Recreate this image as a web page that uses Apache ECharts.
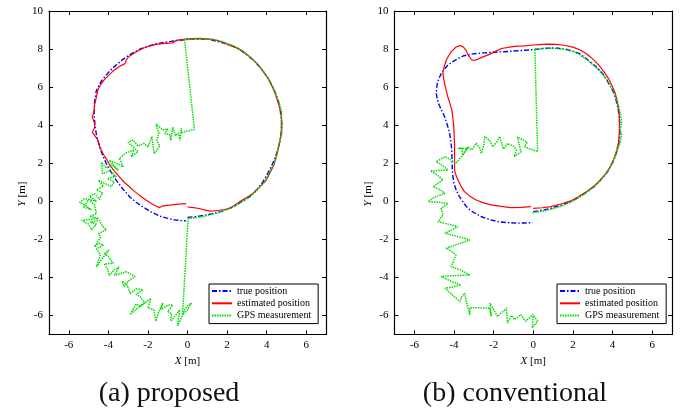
<!DOCTYPE html>
<html>
<head>
<meta charset="utf-8">
<script src="https://cdn.jsdelivr.net/npm/echarts@6/dist/echarts.min.js"></script>
<style>
html,body{margin:0;padding:0;background:#fff;}
#c{width:691px;height:417px;}
</style>
</head>
<body>
<div id="c"></div>
<script>
// ---------- tick labels ----------
const xTicks = [-6, -4, -2, 0, 2, 4, 6];
const yTicks = [-6, -4, -2, 0, 2, 4, 6, 8, 10];
const seriesNames = ['true position', 'estimated position', 'GPS measurement'];
const captions = ['(a) proposed', '(b) conventional'];

// ---------- (a) proposed ----------
const aTrue = [
  [0.0,-0.85],[0.6,-0.78],[1.28,-0.65],[1.8,-0.5],[2.29,-0.3],[2.7,-0.05],[3.13,0.23],[3.5,0.6],[3.8,1.01],
  [4.05,1.45],[4.3,1.97],[4.5,2.5],[4.64,3.02],[4.74,3.55],[4.77,4.06],[4.69,4.76],[4.6,5.2],[4.47,5.63],
  [4.28,6.08],[4.05,6.5],[3.78,6.9],[3.46,7.29],[3.05,7.66],[2.62,7.99],[2.2,8.18],[1.78,8.33],[1.11,8.51],
  [0.5,8.53],[0.0,8.51],[-0.74,8.42],[-1.58,8.28],[-2.0,8.15],[-2.42,7.99],[-2.85,7.75],[-3.26,7.46],
  [-3.62,7.15],[-3.93,6.85],[-4.35,6.33],[-4.61,5.81],[-4.7,5.2],[-4.72,4.59],[-4.68,4.05],[-4.61,3.54],
  [-4.44,2.84],[-4.28,2.4],[-4.1,1.97],[-3.85,1.52],[-3.6,1.1],[-3.27,0.65],[-2.92,0.23],[-2.6,-0.05],
  [-2.25,-0.3],[-1.85,-0.55],[-1.41,-0.78],[-1.0,-0.9],[-0.57,-0.99],[-0.07,-1.03]
];
const aEst = [
  [0.0,-0.3],[0.3,-0.33],[0.6,-0.38],[0.9,-0.46],[1.11,-0.52],[1.35,-0.5],[1.61,-0.47],[1.85,-0.43],[2.12,-0.38],
  [2.4,-0.2],[2.62,-0.03],[2.95,0.17],[3.29,0.4],[3.65,0.75],[3.97,1.1],[4.2,1.55],[4.39,1.97],[4.5,2.4],
  [4.61,2.84],[4.7,3.35],[4.77,3.89],[4.74,4.59],[4.62,5.05],[4.47,5.54],[4.3,6.0],[4.1,6.42],[3.85,6.8],
  [3.55,7.2],[3.2,7.55],[2.79,7.9],[2.4,8.1],[1.95,8.28],[1.6,8.42],[1.28,8.51],[0.61,8.56],[0.0,8.54],
  [-0.57,8.46],[-0.74,8.33],[-1.15,8.3],[-1.58,8.25],[-1.95,8.15],[-2.25,8.04],[-2.6,7.85],[-2.92,7.64],
  [-3.05,7.5],[-3.18,7.22],[-3.45,7.08],[-3.76,6.85],[-3.98,6.62],[-4.18,6.42],[-4.38,6.15],[-4.52,5.89],
  [-4.6,5.5],[-4.69,5.11],[-4.72,4.75],[-4.81,4.41],[-4.7,4.1],[-4.69,3.89],[-4.81,3.63],[-4.65,3.4],
  [-4.52,3.19],[-4.45,2.9],[-4.35,2.67],[-4.22,2.42],[-4.1,2.23],[-3.95,1.95],[-3.85,1.8],[-3.65,1.53],
  [-3.43,1.27],[-3.2,1.0],[-2.92,0.75],[-2.68,0.52],[-2.42,0.31],[-2.12,0.08],[-1.83,-0.12],[-1.6,-0.25],
  [-1.41,-0.33],[-1.25,-0.25],[-1.08,-0.21],[-0.8,-0.19],[-0.57,-0.16],[-0.3,-0.14],[-0.07,-0.12]
];
const aGps = [
  [0.03,-0.9],[0.4,-0.86],[0.8,-0.8],[1.15,-0.7],[1.5,-0.62],[1.85,-0.48],[2.2,-0.35],[2.45,-0.22],[2.7,-0.05],
  [2.95,0.1],[3.2,0.3],[3.42,0.48],[3.6,0.72],[3.8,0.9],[3.95,1.15],[4.12,1.45],[4.25,1.75],[4.4,2.05],
  [4.5,2.4],[4.56,2.7],[4.62,3.0],[4.7,3.3],[4.78,3.6],[4.72,3.9],[4.74,4.2],[4.76,4.7],[4.68,5.0],[4.6,5.3],
  [4.5,5.5],[4.42,5.75],[4.3,6.0],[4.15,6.3],[4.0,6.55],[3.85,6.8],[3.65,7.05],[3.45,7.3],[3.25,7.5],
  [3.0,7.7],[2.78,7.9],[2.55,8.05],[2.28,8.2],[2.0,8.3],[1.75,8.4],[1.55,8.45],[1.3,8.5],[1.1,8.52],
  [0.8,8.53],[0.5,8.53],[0.2,8.51],[-0.15,8.5],
  [0.35,3.78],[-0.3,3.62],[-0.32,3.85],[-0.38,3.2],[-0.45,3.6],[-0.6,3.45],[-0.75,3.9],[-0.85,3.2],
  [-0.9,3.5],[-1.15,3.55],[-1.0,3.8],[-1.25,3.75],[-1.6,4.08],[-1.45,3.6],[-1.55,3.2],[-1.4,2.9],
  [-1.68,2.5],[-1.75,3.0],[-1.8,3.4],[-2.0,2.85],[-2.2,3.05],[-2.5,2.9],[-2.75,3.22],[-3.0,3.1],
  [-2.5,2.6],[-2.85,2.35],[-2.7,2.7],[-3.1,2.55],[-3.45,2.25],[-3.25,1.82],[-3.6,2.0],[-3.95,2.15],
  [-3.5,1.62],[-3.8,1.9],[-4.1,1.75],[-4.35,2.05],[-4.3,1.45],[-3.9,1.6],[-3.6,1.3],[-4.05,1.2],
  [-3.7,1.0],[-3.85,0.78],[-4.2,0.95],[-4.5,1.1],[-4.25,0.8],[-4.6,0.6],[-4.3,0.45],[-4.45,0.1],
  [-4.7,0.4],[-4.95,0.25],[-4.6,0.0],[-5.2,0.15],[-5.45,-0.05],[-5.1,-0.25],[-4.85,-0.45],[-5.25,-0.3],
  [-5.0,0.1],[-4.7,-0.2],[-4.6,-0.65],[-4.95,-0.8],[-4.5,-0.9],[-5.35,-1.0],[-5.0,-1.2],[-4.85,-1.5],
  [-4.6,-1.2],[-4.9,-1.1],[-4.45,-1.0],[-4.3,-1.3],[-4.1,-1.5],[-4.5,-1.7],[-4.4,-1.9],[-4.7,-2.4],
  [-4.5,-2.2],[-4.25,-2.3],[-4.6,-2.5],[-4.4,-2.8],[-4.6,-3.45],[-4.3,-3.0],[-3.95,-2.55],[-4.2,-2.75],
  [-4.0,-2.9],[-3.75,-3.25],[-4.2,-3.3],[-4.05,-3.55],[-3.95,-3.9],[-3.7,-3.6],[-3.45,-3.45],[-3.7,-3.9],
  [-3.1,-3.7],[-2.65,-3.95],[-3.0,-4.2],[-3.2,-4.5],[-3.3,-4.2],[-3.05,-4.4],[-2.9,-4.85],[-2.6,-4.6],
  [-2.25,-4.65],[-2.6,-4.9],[-2.4,-5.0],[-2.15,-5.35],[-2.5,-5.6],[-2.9,-5.95],[-2.6,-5.4],[-2.4,-5.5],
  [-1.85,-5.1],[-2.0,-5.6],[-1.7,-5.7],[-1.6,-6.3],[-1.45,-5.8],[-1.25,-5.35],[-1.35,-5.7],[-1.0,-5.45],
  [-0.75,-5.45],[-1.0,-5.8],[-0.8,-5.9],[-0.85,-6.3],[-0.6,-6.0],[-0.4,-5.7],[-0.45,-6.1],[-0.5,-6.55],
  [-0.3,-6.1],[-0.15,-5.7],[0.0,-5.5],[0.2,-5.35],[0.0,-5.7],[-0.25,-5.95],[0.03,-0.9]
];

// ---------- (b) conventional ----------
const bTrue = [
  [0.0,-0.54],[0.45,-0.47],[0.89,-0.37],[1.4,-0.2],[1.89,-0.02],[2.3,0.22],[2.73,0.51],[3.1,0.8],[3.4,1.12],
  [3.68,1.45],[3.9,1.82],[4.1,2.25],[4.24,2.69],[4.33,3.1],[4.37,3.57],[4.36,4.1],[4.32,4.62],[4.25,5.0],
  [4.16,5.4],[4.05,5.72],[3.9,6.02],[3.7,6.4],[3.49,6.72],[3.25,7.0],[2.98,7.24],[2.65,7.52],[2.31,7.77],
  [1.95,7.9],[1.64,7.99],[1.25,8.04],[0.89,8.06],[0.45,8.02],[0.05,7.98],[-0.4,7.94],[-0.79,7.91],
  [-1.2,7.88],[-1.63,7.85],[-2.05,7.83],[-2.46,7.8],[-2.8,7.77],[-3.13,7.73],[-3.5,7.65],[-3.8,7.5],
  [-4.08,7.33],[-4.31,7.15],[-4.5,6.93],[-4.64,6.71],[-4.76,6.45],[-4.84,6.19],[-4.88,5.92],[-4.89,5.67],
  [-4.85,5.4],[-4.78,5.14],[-4.62,4.78],[-4.47,4.44],[-4.33,4.0],[-4.22,3.57],[-4.15,3.1],[-4.11,2.69],
  [-4.1,2.25],[-4.09,1.82],[-4.06,1.35],[-4.0,0.94],[-3.88,0.57],[-3.72,0.24],[-3.52,-0.08],[-3.3,-0.37],
  [-2.98,-0.6],[-2.63,-0.8],[-2.2,-0.96],[-1.79,-1.07],[-1.3,-1.12],[-0.79,-1.15],[-0.4,-1.14],[-0.03,-1.12]
];
const bEst = [
  [0.0,-0.37],[0.45,-0.34],[0.89,-0.28],[1.4,-0.14],[1.89,0.02],[2.3,0.25],[2.73,0.54],[3.1,0.83],[3.4,1.15],
  [3.68,1.48],[3.9,1.85],[4.08,2.25],[4.21,2.69],[4.3,3.1],[4.34,3.57],[4.35,4.1],[4.34,4.62],[4.28,5.0],
  [4.21,5.4],[4.12,5.72],[3.99,6.05],[3.8,6.45],[3.57,6.8],[3.33,7.13],[3.07,7.42],[2.75,7.7],[2.4,7.94],
  [2.0,8.1],[1.56,8.2],[1.15,8.25],[0.72,8.26],[0.3,8.23],[-0.12,8.2],[-0.45,8.17],[-0.79,8.15],[-1.12,8.11],
  [-1.38,8.07],[-1.63,8.02],[-1.9,7.88],[-2.13,7.76],[-2.4,7.64],[-2.63,7.55],[-2.8,7.46],[-2.97,7.41],
  [-3.12,7.44],[-3.22,7.52],[-3.3,7.72],[-3.39,7.94],[-3.5,8.08],[-3.64,8.18],[-3.78,8.15],[-3.89,8.11],
  [-4.02,7.98],[-4.14,7.85],[-4.27,7.65],[-4.39,7.41],[-4.48,7.12],[-4.56,6.8],[-4.53,6.5],[-4.47,6.19],
  [-4.4,5.85],[-4.31,5.49],[-4.2,5.13],[-4.11,4.79],[-4.05,4.35],[-4.01,3.92],[-3.99,3.48],[-3.97,3.04],
  [-3.97,2.6],[-3.97,2.17],[-3.97,1.64],[-3.9,1.38],[-3.8,1.12],[-3.65,0.8],[-3.47,0.51],[-3.2,0.27],
  [-2.88,0.07],[-2.5,-0.08],[-2.13,-0.19],[-1.62,-0.27],[-1.12,-0.33],[-0.62,-0.32],[-0.12,-0.28]
];
const bGps = [
  [-0.03,-0.6],[0.3,-0.55],[0.6,-0.5],[0.95,-0.4],[1.3,-0.3],[1.6,-0.18],[1.9,-0.05],[2.15,0.1],[2.4,0.25],
  [2.62,0.42],[2.85,0.6],[3.1,0.8],[3.3,1.0],[3.5,1.25],[3.7,1.5],[3.85,1.75],[4.0,2.0],[4.1,2.3],
  [4.2,2.6],[4.32,2.9],[4.4,3.2],[4.46,3.5],[4.38,3.8],[4.45,4.05],[4.45,4.3],[4.4,4.55],[4.35,4.8],
  [4.28,5.1],[4.2,5.35],[4.08,5.65],[3.95,5.95],[3.8,6.25],[3.6,6.55],[3.38,6.8],[3.15,7.05],[2.92,7.25],
  [2.7,7.45],[2.45,7.62],[2.2,7.8],[1.95,7.9],[1.7,7.97],[1.45,8.0],[1.2,8.03],[0.9,8.04],[0.6,8.04],
  [0.3,8.02],[0.08,8.0],
  [0.22,2.6],[-0.45,2.87],[-0.3,3.1],[-0.8,3.38],[-0.62,2.6],[-0.96,2.34],[-0.85,2.7],[-1.0,2.9],
  [-1.3,3.04],[-1.5,2.75],[-1.7,3.4],[-1.85,3.1],[-2.05,2.87],[-2.2,3.2],[-2.45,3.4],[-2.5,2.9],
  [-2.62,2.52],[-2.7,2.8],[-2.88,3.05],[-3.1,2.7],[-3.3,2.87],[-3.55,2.43],[-3.6,2.8],[-3.8,2.78],
  [-3.3,2.78],[-3.9,2.0],[-4.2,2.2],[-4.45,2.34],[-4.9,2.08],[-4.6,1.9],[-4.3,1.64],[-4.7,1.62],
  [-5.18,1.6],[-4.8,1.35],[-4.55,1.12],[-4.8,0.95],[-5.05,0.77],[-4.7,0.6],[-4.45,0.42],[-4.75,0.3],
  [-5.0,0.2],[-5.3,-0.02],[-4.8,-0.05],[-4.3,-0.12],[-4.65,-0.37],[-4.55,-0.7],[-4.8,-1.07],[-4.3,-1.2],
  [-3.8,-1.33],[-4.1,-1.5],[-4.45,-1.68],[-3.8,-1.85],[-3.2,-2.03],[-3.8,-2.25],[-4.4,-2.47],[-4.15,-2.6],
  [-3.9,-2.82],[-4.0,-3.1],[-4.15,-3.43],[-3.7,-3.6],[-3.2,-3.87],[-3.9,-3.9],[-4.65,-3.95],[-4.15,-4.2],
  [-3.65,-4.4],[-4.05,-4.5],[-4.45,-4.57],[-4.1,-4.9],[-3.7,-5.27],[-3.6,-5.0],[-3.45,-4.83],[-3.35,-5.4],
  [-3.2,-5.96],[-3.2,-5.6],[-2.7,-5.6],[-2.2,-5.62],[-2.12,-6.05],[-2.2,-5.35],[-2.0,-5.7],[-1.8,-6.05],
  [-1.35,-5.62],[-1.3,-6.4],[-1.1,-6.0],[-0.95,-6.22],[-0.62,-5.96],[-0.5,-6.15],[-0.38,-6.3],
  [-0.02,-5.95],[0.22,-6.3],[-0.05,-6.65],[0.0,-6.0]
];

// ---------- chart ----------
const chart = echarts.init(document.getElementById('c'), null, {renderer: 'canvas'});
const serif = 'Liberation Serif';
const grids = [
  {left: 49, top: 11, width: 277, height: 323.5},
  {left: 394.5, top: 11, width: 277.5, height: 323.5}
];
const lineAxis = {show: true, onZero: false, lineStyle: {color: '#000', width: 1.2}};
function xAx(gi, pos, labels) {
  return {
    type: 'value', gridIndex: gi, position: pos, min: -7, max: 7,
    axisLine: lineAxis,
    axisTick: {show: true, inside: true, length: 4, customValues: xTicks, lineStyle: {color: '#000', width: 1}},
    axisLabel: {show: labels, customValues: xTicks, margin: 5, fontFamily: serif, fontSize: 11, color: '#000'},
    splitLine: {show: false},
    name: labels ? '{i|X}{n| [m]}' : '', nameLocation: 'middle', nameGap: 19,
    nameTextStyle: {fontFamily: serif, fontSize: 11, color: '#000',
      rich: {i: {fontStyle: 'italic', fontFamily: serif, fontSize: 11, color: '#000'},
             n: {fontFamily: serif, fontSize: 11, color: '#000'}}}
  };
}
function yAx(gi, pos, labels) {
  return {
    type: 'value', gridIndex: gi, position: pos, min: -7, max: 10,
    axisLine: lineAxis,
    axisTick: {show: true, inside: true, length: 4, customValues: yTicks, lineStyle: {color: '#000', width: 1}},
    axisLabel: {show: labels, customValues: yTicks, margin: 6, fontFamily: serif, fontSize: 11, color: '#000'},
    splitLine: {show: false}
  };
}
const styles = [
  {color: '#0000ff', width: 1.4, type: [5, 2, 1.5, 2]},
  {color: '#ff0000', width: 1.2, type: 'solid'},
  {color: '#00dd00', width: 1.5, type: [1.5, 1]}
];
const sets = [[aTrue, aEst, aGps], [bTrue, bEst, bGps]];
const series = [];
sets.forEach((set, gi) => {
  set.forEach((d, k) => {
    series.push({
      name: seriesNames[k], type: 'line', xAxisIndex: gi * 2, yAxisIndex: gi * 2,
      data: d, symbol: 'none', showSymbol: false, smooth: false, animation: false,
      lineStyle: Object.assign({}, styles[k]), itemStyle: {color: styles[k].color},
      emphasis: {disabled: true}, z: 2 + k
    });
  });
});
function legend(left) {
  return {
    data: seriesNames, orient: 'vertical', left: left, top: 284,
    itemWidth: 20, itemHeight: 10, itemGap: 2.3, padding: [2, 7, 3, 2],
    borderColor: '#000', borderWidth: 1, backgroundColor: '#fff',
    itemStyle: {opacity: 0, borderWidth: 0},
    textStyle: {fontFamily: serif, fontSize: 10, color: '#000'},
    selectedMode: false
  };
}
function yName(x, y) {
  return {
    type: 'text', x: x, y: y, rotation: Math.PI / 2,
    style: {text: '{i|Y}{n| [m]}', fontFamily: serif, fontSize: 11, fill: '#000', align: 'center', verticalAlign: 'middle',
      rich: {i: {fontStyle: 'italic', fontFamily: serif, fontSize: 11, fill: '#000'},
             n: {fontFamily: serif, fontSize: 11, fill: '#000'}}}
  };
}
function caption(text, x) {
  return {
    type: 'text', x: x, y: 394,
    style: {text: text, fontFamily: serif, fontSize: 28, fill: '#111', align: 'center', verticalAlign: 'middle'}
  };
}
chart.setOption({
  animation: false,
  backgroundColor: '#fff',
  textStyle: {fontFamily: serif},
  grid: grids,
  xAxis: [xAx(0, 'bottom', true), xAx(0, 'top', false), xAx(1, 'bottom', true), xAx(1, 'top', false)],
  yAxis: [yAx(0, 'left', true), yAx(0, 'right', false), yAx(1, 'left', true), yAx(1, 'right', false)],
  legend: [legend(209), legend(557)],
  series: series,
  graphic: [yName(22.5, 194), yName(368, 194), caption(captions[0], 169), caption(captions[1], 515)]
});
</script>
</body>
</html>
